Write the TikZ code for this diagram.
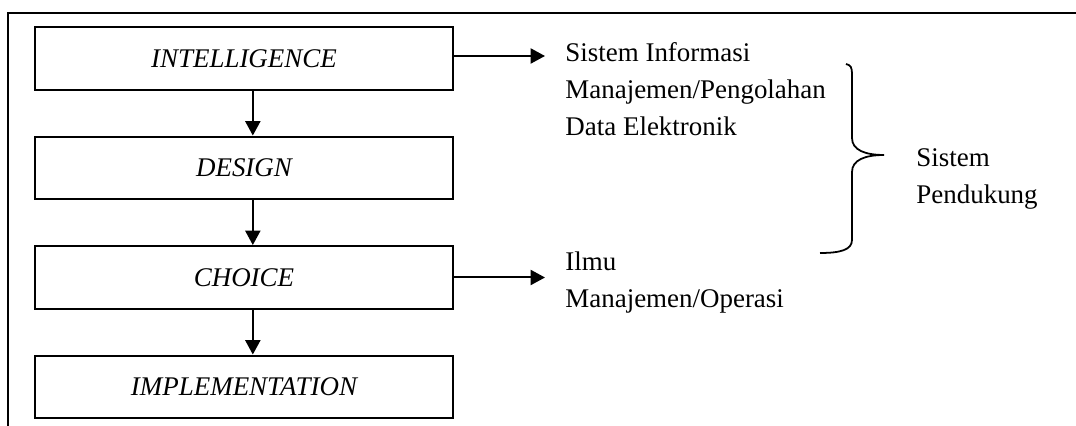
\documentclass[tikz,border=0pt]{standalone}
\usepackage{fontspec}
\setmainfont{Liberation Serif}
\usetikzlibrary{arrows.meta,positioning}
\begin{document}
\begin{tikzpicture}[x=0.4528pt,y=-0.4528pt,
  phase/.style={draw,line width=0.9pt,minimum width=189pt,minimum height=28.5pt,inner sep=0pt,font=\fontsize{12.2}{14}\selectfont\itshape},
  flow/.style={line width=0.9pt,-{Triangle[length=6.5pt,width=6.8pt]}},
  lbl/.style={align=left,anchor=north west,inner sep=0pt,font=\fontsize{12.2}{16.8}\selectfont}]
\useasboundingbox (0,0) rectangle (1076,426);
% Frame
\draw[line width=0.9pt] (1076,13) -- (8,13) -- (8,426);

% Phases
\node[phase] (intel) at (244,58.5) {INTELLIGENCE};
\node[phase] (design) at (244,168) {DESIGN};
\node[phase] (choice) at (244,277.5) {CHOICE};
\node[phase] (impl) at (244,387) {IMPLEMENTATION};

% Flow between phases
\foreach \a/\b in {intel/design,design/choice,choice/impl}
    \draw[flow] ([xshift=4pt]\a.south) -- ([xshift=4pt]\b.north);

% Supporting systems
\node[lbl] (sim) at (565,42) {Sistem Informasi\\Manajemen/Pengolahan\\Data Elektronik};
\node[lbl] (imo) at (565,251) {Ilmu\\Manajemen/Operasi};
\coordinate (simEnd) at (545,56);
\coordinate (imoEnd) at (545,277.5);
\draw[flow] (intel.east |- simEnd) -- (simEnd);
\draw[flow] (choice.east) -- (choice.east -| imoEnd);

% Brace
\draw[line width=0.8pt] (846,64) .. controls (851,65) and (852,68) .. (852,74) -- (852,138)
    .. controls (852,150) and (865,155) .. (884,155)
    .. controls (865,155) and (852,160) .. (852,172) -- (852,240)
    .. controls (852,250) and (840,253) .. (820,253);
\node[lbl] (spk) at (916,148) {Sistem\\Pendukung};
\end{tikzpicture}
\end{document}
